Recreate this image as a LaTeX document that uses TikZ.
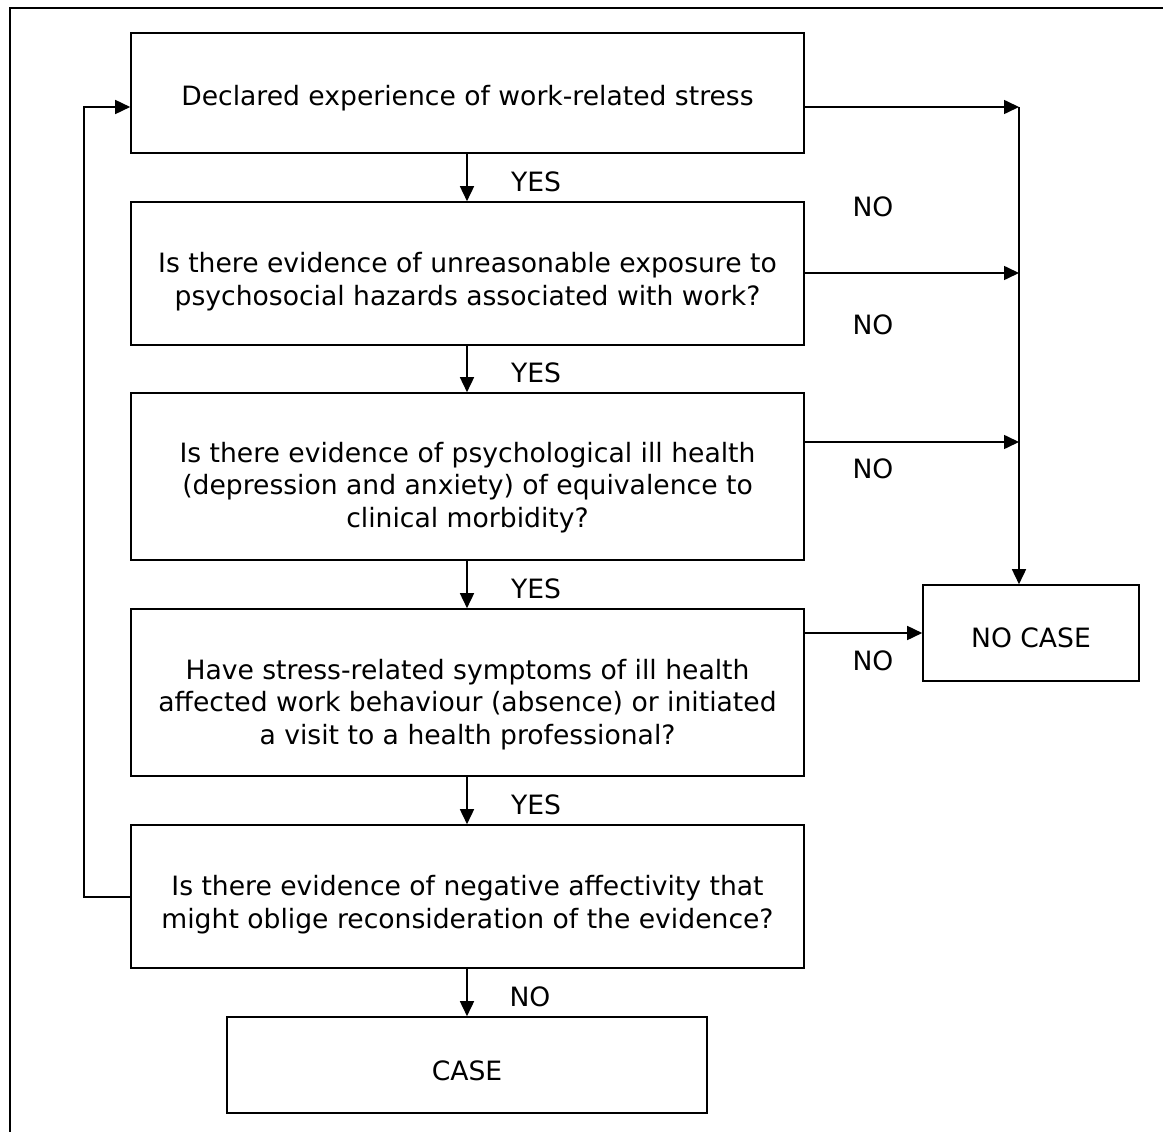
\documentclass[tikz,border=0pt]{standalone}
\usepackage{fontspec}
\setmainfont{DejaVu Sans}
\usetikzlibrary{arrows.meta}
\begin{document}
\begin{tikzpicture}[x=1pt,y=-1pt,
  every node/.style={font=\fontsize{26.6}{32.5}\selectfont, inner sep=0pt},
  box/.style={draw, line width=1.6pt, minimum width=673pt},
  txt/.style={align=center},
  conn/.style={line width=1.6pt, -{Triangle[length=15pt,width=14pt]}},
  plain/.style={line width=1.6pt}]
\useasboundingbox (0,0) rectangle (1163,1132);
\draw[line width=1.6pt] (10,1150) -- (10,8) -- (1180,8);
\node[box, minimum height=120pt, label={[txt,yshift=-5pt]center:Declared experience of work-related stress}] (b1) at (467.5,93) {};
\node[box, minimum height=143pt, label={[txt,yshift=-8pt]center:{Is there evidence of unreasonable exposure to\\psychosocial hazards associated with work?}}] (b2) at (467.5,273.5) {};
\node[box, minimum height=167pt, label={[txt,yshift=-11pt]center:{Is there evidence of psychological ill health\\(depression and anxiety) of equivalence to\\clinical morbidity?}}] (b3) at (467.5,476.5) {};
\node[box, minimum height=167pt, label={[txt,yshift=-12pt]center:{Have stress-related symptoms of ill health\\affected work behaviour (absence) or initiated\\a visit to a health professional?}}] (b4) at (467.5,692.5) {};
\node[box, minimum height=143pt, label={[txt,yshift=-8pt]center:{Is there evidence of negative affectivity that\\might oblige reconsideration of the evidence?}}] (b5) at (467.5,896.5) {};
\node[box, minimum width=480pt, minimum height=96pt, label={[txt,yshift=-6pt]center:CASE}] (case) at (467,1065) {};
\node[box, minimum width=216pt, minimum height=96pt, label={[txt,yshift=-5pt]center:NO CASE}] (nocase) at (1031,633) {};
\coordinate (r1) at (1019,107);
\coordinate (r2) at (1019,273);
\coordinate (r3) at (1019,442);
\coordinate (l1) at (84,897);
\coordinate (l2) at (84,107);
% vertical yes arrows
\draw[conn] (b1.south -| 467,0) -- (b2.north -| 467,0);
\draw[conn] (b2.south -| 467,0) -- (b3.north -| 467,0);
\draw[conn] (b3.south -| 467,0) -- (b4.north -| 467,0);
\draw[conn] (b4.south -| 467,0) -- (b5.north -| 467,0);
\draw[conn] (b5.south -| 467,0) -- (case.north -| 467,0);
% right no arrows
\draw[conn] (b1.east |- r1) -- (r1);
\draw[conn] (b2.east |- r2) -- (r2);
\draw[conn] (b3.east |- r3) -- (r3);
\draw[conn] (r1) -- (nocase.north -| r1);
\draw[conn] (b4.east |- 0,633) -- (nocase.west |- 0,633);
% loop
\draw[conn] (b5.west |- l1) -- (l1) -- (l2) -- (b1.west |- l2);
% labels
\node (y1) at (536,182) {YES};
\node (y2) at (536,373) {YES};
\node (y3) at (536,589) {YES};
\node (y4) at (536,805) {YES};
\node (n5) at (530,997) {NO};
\node (n1) at (873,207) {NO};
\node (n2) at (873,325) {NO};
\node (n3) at (873,469) {NO};
\node (n4) at (873,661) {NO};
\end{tikzpicture}
\end{document}
